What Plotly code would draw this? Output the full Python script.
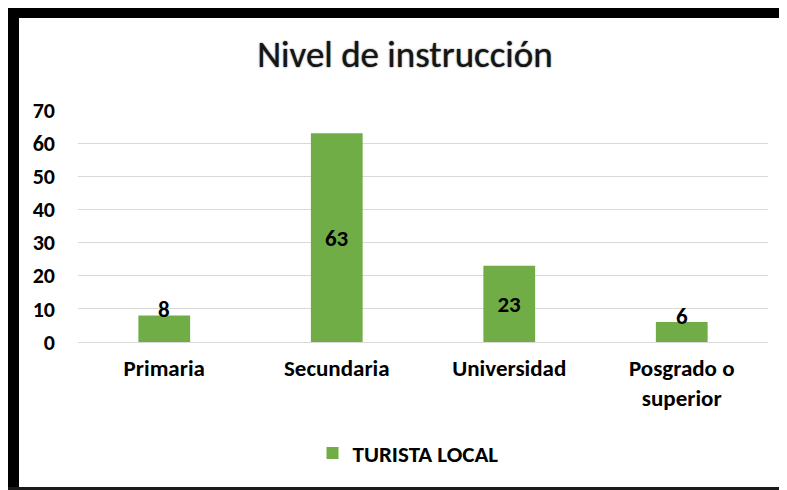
import plotly.graph_objects as go

categories = ["Primaria", "Secundaria", "Universidad", "Posgrado o<br>superior"]
values = [8, 63, 23, 6]
series_name = "TURISTA LOCAL"
title_text = "Nivel de instrucción"
y_ticks = [0, 10, 20, 30, 40, 50, 60, 70]

# page has an 8px body margin; figure coordinates = page coordinates - 8
W, H = 779, 482
ML, MR, MT, MB = 70, 19, 102, 148
PW, PH = W - ML - MR, H - MT - MB

def px_x(x):
    return (x - ML) / PW

def px_y(y):
    return (H - MB - y) / PH

FONT = "Carlito, Calibri, Lato, sans-serif"
GREEN = "#70AD47"
LABEL_FONT = dict(family=FONT, size=23, color="black", weight="bold")

inside = [v > 15 for v in values]

fig = go.Figure()
fig.add_trace(go.Bar(
    x=categories, y=values, name=series_name,
    marker=dict(color=GREEN, line=dict(width=0)),
    text=[str(v) if ins else "" for v, ins in zip(values, inside)],
    textposition="inside",
    insidetextanchor="middle",
    textfont=LABEL_FONT,
    cliponaxis=False,
))

annotations = [
    dict(x=c, y=v, xref="x", yref="y", text=str(v), showarrow=False,
         yanchor="middle", yshift=6, font=LABEL_FONT)
    for c, v, ins in zip(categories, values, inside) if not ins
]

shapes = [
    dict(type="rect", xref="paper", yref="paper", x0=px_x(0), x1=px_x(11), y0=px_y(H + 5), y1=px_y(0),
         fillcolor="black", line=dict(width=0), layer="above"),
    dict(type="rect", xref="paper", yref="paper", x0=px_x(0), x1=px_x(W + 5), y0=px_y(10), y1=px_y(0),
         fillcolor="black", line=dict(width=0), layer="above"),
    dict(type="rect", xref="paper", yref="paper", x0=px_x(0), x1=px_x(W + 5), y0=px_y(H + 5), y1=px_y(479),
         fillcolor="#1a1a1a", line=dict(width=0), layer="above"),
]

fig.update_layout(
    width=W, height=H,
    margin=dict(l=ML, r=MR, t=MT, b=MB, pad=0),
    paper_bgcolor="white", plot_bgcolor="white",
    font=dict(family=FONT, color="black"),
    title=dict(text=title_text, x=397 / W, xref="container", xanchor="center",
               y=1 - 46 / H, yref="container", yanchor="middle",
               font=dict(family=FONT, size=37, color="#151515", shadow="0px 0px 1.5px #333")),
    bargap=0.70,
    showlegend=True,
    legend=dict(orientation="h", x=400 / W, xref="container", xanchor="center",
                y=1 - 445 / H, yref="container", yanchor="middle",
                font=dict(family=FONT, size=23, color="black", weight="bold"),
                itemwidth=30),
    xaxis=dict(showgrid=False, showline=False, zeroline=False, ticks="",
               ticklabelstandoff=10,
               tickfont=dict(family=FONT, size=23, color="black", weight="bold")),
    yaxis=dict(range=[0, 70], tickvals=y_ticks, showgrid=True, gridcolor="#D9D9D9", gridwidth=1.3,
               zeroline=True, zerolinecolor="#D9D9D9", zerolinewidth=1.3,
               showline=False, ticks="", ticklabelstandoff=22,
               tickfont=dict(family=FONT, size=22, color="black", weight="bold")),
    annotations=annotations,
    shapes=shapes,
)

fig.write_html("out.html")
